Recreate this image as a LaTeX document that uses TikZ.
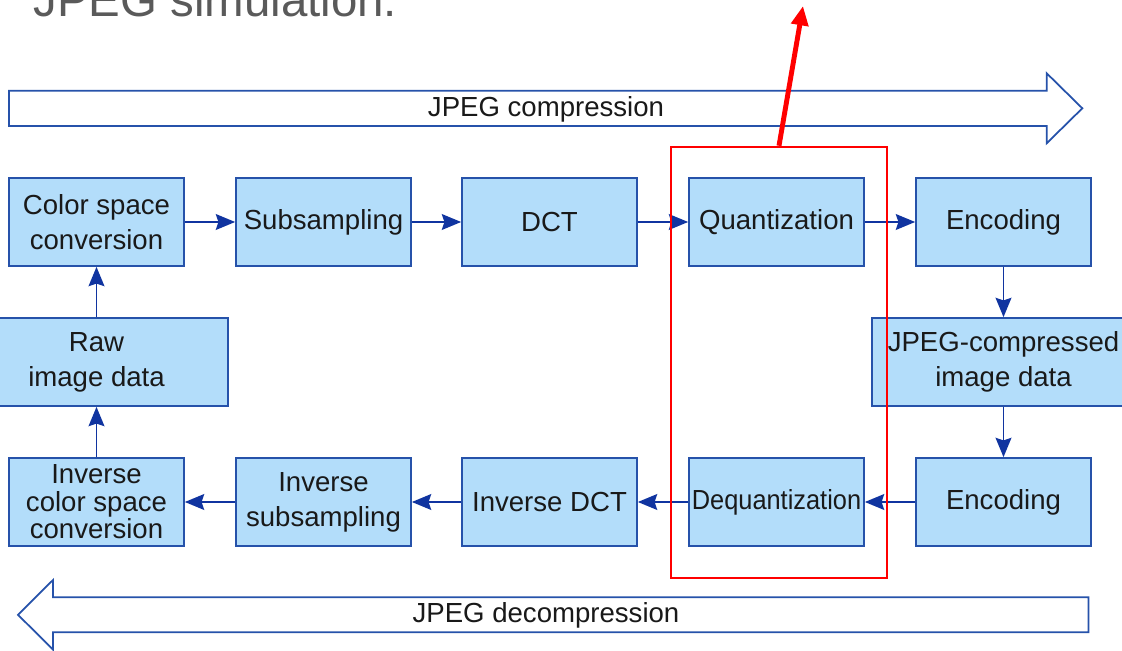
\documentclass[tikz,border=0pt]{standalone}
\usepackage{fontspec}
\usepackage{graphicx}
\setmainfont{Liberation Sans}
\usetikzlibrary{arrows.meta}
\definecolor{boxfill}{RGB}{179,221,250}
\definecolor{boxline}{RGB}{38,82,170}
\definecolor{flow}{RGB}{16,52,160}
\definecolor{titlegray}{RGB}{90,90,90}
\definecolor{hilite}{RGB}{255,0,0}
\definecolor{ink}{RGB}{25,25,25}

\begin{document}
\begin{tikzpicture}[x=0.02cm,y=-0.02cm,
  stage/.style={draw=boxline, fill=boxfill, line width=1pt,
    minimum width=3.5cm, minimum height=1.76cm, align=center, inner sep=0pt,
    font=\fontsize{15.7}{19.8}\selectfont, text=ink},
  widestage/.style={stage, minimum width=5.26cm},
  flowarrow/.style={draw=flow, line width=1.1pt,
    -{Stealth[length=11pt,width=9pt,inset=1.5pt]}},
  band/.style={draw=boxline, fill=white, line width=1pt},
  bandlabel/.style={font=\fontsize{15.7}{19}\selectfont, text=ink, inner sep=0pt}]

\useasboundingbox[fill=white] (0,0) rectangle (1122,651);

% heading
\node[anchor=base west, inner sep=0pt, text=titlegray,
      font=\fontsize{27}{32}\selectfont] (title) at (33,17) {JPEG simulation.};

% direction bands
\path[band] (9,90.7) -- (1046.7,90.7) -- (1046.7,73.3) -- (1082.3,108.3)
  -- (1046.7,143.3) -- (1046.7,126) -- (9,126) -- cycle;
\node[bandlabel] (comp) at (546,109) {JPEG compression};

\path[band] (1088.6,597.3) -- (53,597.3) -- (53,580) -- (18,614.8)
  -- (53,649.6) -- (53,632.3) -- (1088.6,632.3) -- cycle;
\node[bandlabel] (decomp) at (546,615.5) {JPEG decompression};

% compression row
\node[stage] (csc)  at (96.5,222)  {Color space\\conversion};
\node[stage] (sub)  at (323.5,222) {Subsampling};
\node[stage] (dct)  at (549.5,222) {DCT};
\node[stage] (quant) at (776.5,222) {Quantization};
\node[stage] (enc)  at (1003.5,222) {Encoding};

% data
\node[widestage] (raw)  at (96.5,362)   {Raw\\image data};
\node[widestage] (jpeg) at (1003.5,362) {JPEG-compressed\\image data};

% decompression row
\node[stage, font=\fontsize{15.7}{15.6}\selectfont] (icsc) at (96.5,502)
  {Inverse\\color space\\conversion};
\node[stage] (isub)  at (323.5,502) {Inverse\\subsampling};
\node[stage] (idct)  at (549.5,502) {Inverse DCT};
\node[stage] (dequant) at (776.5,502) {\scalebox{0.92}[1]{Dequantization}};
\node[stage] (dec)   at (1003.5,502) {Encoding};

% flow
\draw[flowarrow] (raw.north) -- (csc.south);
\draw[flowarrow] (csc.east) -- (sub.west);
\draw[flowarrow] (sub.east) -- (dct.west);
\draw[flowarrow] (dct.east) -- (quant.west);
\draw[flowarrow] (quant.east) -- (enc.west);
\draw[flowarrow] (enc.south) -- (jpeg.north);
\draw[flowarrow] (jpeg.south) -- (dec.north);
\draw[flowarrow] (dec.west) -- (dequant.east);
\draw[flowarrow] (dequant.west) -- (idct.east);
\draw[flowarrow] (idct.west) -- (isub.east);
\draw[flowarrow] (isub.west) -- (icsc.east);
\draw[flowarrow] (icsc.north) -- (raw.south);

% highlighted quantization stages
\node[draw=hilite, line width=1.1pt, minimum width=4.32cm, minimum height=8.62cm,
      inner sep=0pt] (focus) at (779,362.2) {};
\coordinate (pointer) at (803,6);
\draw[hilite, line width=2.8pt, -{Triangle[length=11pt,width=9.5pt]}]
  (focus.north) -- (pointer);
\end{tikzpicture}
\end{document}
